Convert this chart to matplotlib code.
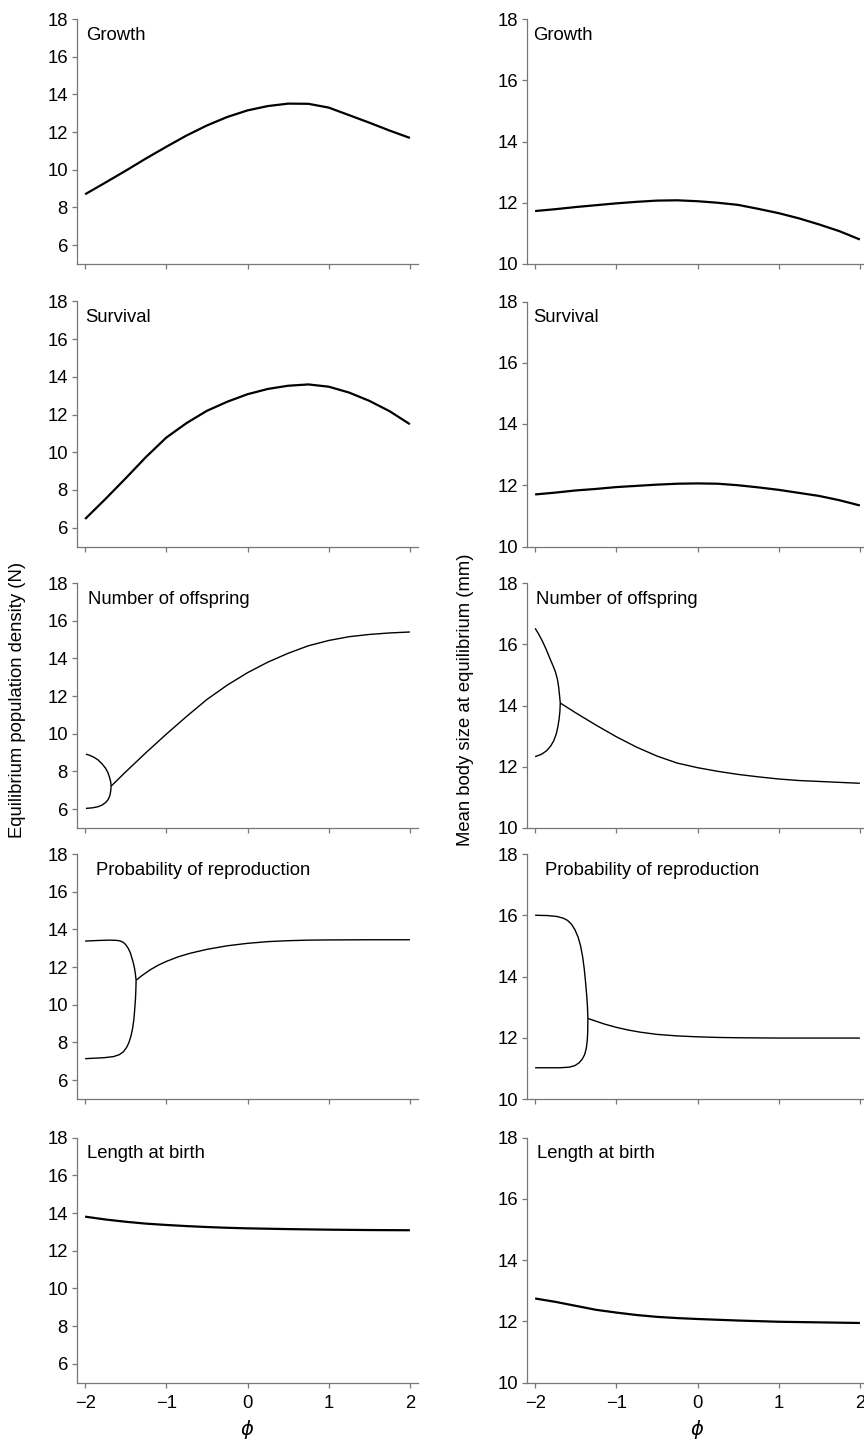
import matplotlib
matplotlib.use("Agg")
import matplotlib.pyplot as plt

plt.rcParams['font.family'] = ['Liberation Sans', 'DejaVu Sans']
plt.rcParams['font.size'] = 13.3

# Panel titles (same for both columns)
titles = ["Growth", "Survival", "Number of offspring", "Probability of reproduction", "Length at birth"]

# Left column: equilibrium population density (N)
growthN_x = [-2.0, -1.75, -1.5, -1.25, -1.0, -0.75, -0.5, -0.25, 0.0, 0.25, 0.5, 0.75, 1.0, 1.25, 1.5, 1.75, 2.0]
growthN_y = [8.70, 9.32, 9.95, 10.60, 11.22, 11.82, 12.35, 12.80, 13.15, 13.38, 13.51, 13.50, 13.30, 12.90, 12.50, 12.08, 11.69]

survN_x = [-2.0, -1.75, -1.5, -1.25, -1.0, -0.75, -0.5, -0.25, 0.0, 0.25, 0.5, 0.75, 1.0, 1.25, 1.5, 1.75, 2.0]
survN_y = [6.46, 7.52, 8.62, 9.75, 10.78, 11.55, 12.20, 12.68, 13.08, 13.36, 13.53, 13.60, 13.48, 13.17, 12.73, 12.18, 11.49]

offN_x = [-1.68, -1.5, -1.25, -1.0, -0.75, -0.5, -0.25, 0.0, 0.25, 0.5, 0.75, 1.0, 1.25, 1.5, 1.75, 2.0]
offN_y = [7.22, 7.98, 9.00, 9.98, 10.92, 11.82, 12.58, 13.24, 13.80, 14.27, 14.67, 14.95, 15.15, 15.27, 15.35, 15.40]
offN_up_x = [-1.99, -1.94, -1.89, -1.84, -1.79, -1.75, -1.72, -1.70, -1.685, -1.68]
offN_up_y = [8.92, 8.85, 8.75, 8.61, 8.40, 8.18, 7.95, 7.70, 7.45, 7.22]
offN_lo_x = [-1.68, -1.685, -1.695, -1.715, -1.745, -1.79, -1.84, -1.91, -1.99]
offN_lo_y = [7.22, 6.95, 6.72, 6.52, 6.36, 6.22, 6.13, 6.07, 6.04]

repN_x = [-1.372, -1.3, -1.2, -1.1, -1.0, -0.85, -0.7, -0.5, -0.25, 0.0, 0.25, 0.5, 0.75, 1.0, 1.5, 2.0]
repN_y = [11.30, 11.55, 11.85, 12.10, 12.30, 12.55, 12.74, 12.94, 13.13, 13.26, 13.35, 13.40, 13.43, 13.44, 13.45, 13.45]
repN_up_x = [-2.0, -1.85, -1.7, -1.62, -1.57, -1.53, -1.50, -1.47, -1.445, -1.425, -1.405, -1.39, -1.38, -1.372]
repN_up_y = [13.38, 13.41, 13.43, 13.42, 13.39, 13.31, 13.19, 13.00, 12.78, 12.50, 12.20, 11.90, 11.60, 11.30]
repN_lo_x = [-1.372, -1.375, -1.38, -1.39, -1.40, -1.415, -1.435, -1.46, -1.49, -1.53, -1.58, -1.65, -1.77, -2.0]
repN_lo_y = [11.30, 10.80, 10.30, 9.70, 9.20, 8.75, 8.35, 8.00, 7.73, 7.50, 7.35, 7.25, 7.19, 7.14]

birthN_x = [-2.0, -1.75, -1.5, -1.25, -1.0, -0.75, -0.5, -0.25, 0.0, 0.5, 1.0, 1.5, 2.0]
birthN_y = [13.81, 13.66, 13.54, 13.44, 13.37, 13.31, 13.26, 13.22, 13.19, 13.15, 13.12, 13.10, 13.09]

# Right column: mean body size at equilibrium (mm)
growthL_x = [-2.0, -1.75, -1.5, -1.25, -1.0, -0.75, -0.5, -0.25, 0.0, 0.25, 0.5, 0.75, 1.0, 1.25, 1.5, 1.75, 2.0]
growthL_y = [11.73, 11.79, 11.86, 11.92, 11.98, 12.03, 12.07, 12.08, 12.05, 12.00, 11.93, 11.80, 11.66, 11.49, 11.29, 11.07, 10.80]

survL_x = [-2.0, -1.75, -1.5, -1.25, -1.0, -0.75, -0.5, -0.25, 0.0, 0.25, 0.5, 0.75, 1.0, 1.25, 1.5, 1.75, 2.0]
survL_y = [11.70, 11.76, 11.83, 11.88, 11.94, 11.98, 12.02, 12.05, 12.06, 12.05, 12.00, 11.93, 11.85, 11.75, 11.65, 11.51, 11.34]

offL_x = [-1.69, -1.5, -1.25, -1.0, -0.75, -0.5, -0.25, 0.0, 0.25, 0.5, 0.75, 1.0, 1.25, 1.5, 1.75, 2.0]
offL_y = [14.08, 13.76, 13.36, 12.98, 12.64, 12.35, 12.12, 11.97, 11.85, 11.75, 11.67, 11.60, 11.55, 11.52, 11.49, 11.46]
offL_up_x = [-2.0, -1.96, -1.91, -1.86, -1.82, -1.78, -1.75, -1.725, -1.71, -1.70, -1.69]
offL_up_y = [16.52, 16.35, 16.10, 15.81, 15.55, 15.30, 15.10, 14.85, 14.60, 14.35, 14.08]
offL_lo_x = [-1.69, -1.695, -1.705, -1.72, -1.74, -1.77, -1.81, -1.86, -1.92, -2.0]
offL_lo_y = [14.08, 13.80, 13.55, 13.30, 13.07, 12.85, 12.67, 12.52, 12.41, 12.33]

repL_x = [-1.35, -1.25, -1.15, -1.0, -0.85, -0.7, -0.5, -0.25, 0.0, 0.25, 0.5, 1.0, 2.0]
repL_y = [12.63, 12.54, 12.45, 12.34, 12.25, 12.18, 12.11, 12.06, 12.03, 12.01, 12.00, 11.99, 11.99]
repL_up_x = [-2.0, -1.85, -1.73, -1.65, -1.6, -1.55, -1.51, -1.47, -1.44, -1.415, -1.395, -1.38, -1.365, -1.355, -1.35]
repL_up_y = [16.00, 15.99, 15.96, 15.90, 15.83, 15.70, 15.53, 15.28, 15.00, 14.65, 14.25, 13.85, 13.40, 13.00, 12.63]
repL_lo_x = [-1.35, -1.352, -1.358, -1.37, -1.39, -1.42, -1.46, -1.51, -1.58, -1.69, -2.0]
repL_lo_y = [12.63, 12.20, 11.90, 11.65, 11.45, 11.30, 11.18, 11.09, 11.04, 11.02, 11.02]

birthL_x = [-2.0, -1.75, -1.5, -1.25, -1.0, -0.75, -0.5, -0.25, 0.0, 0.5, 1.0, 1.5, 2.0]
birthL_y = [12.75, 12.64, 12.51, 12.38, 12.29, 12.21, 12.15, 12.11, 12.08, 12.03, 11.99, 11.97, 11.95]

leftCurves = [
    [(growthN_x, growthN_y)],
    [(survN_x, survN_y)],
    [(offN_x, offN_y), (offN_up_x, offN_up_y), (offN_lo_x, offN_lo_y)],
    [(repN_x, repN_y), (repN_up_x, repN_up_y), (repN_lo_x, repN_lo_y)],
    [(birthN_x, birthN_y)],
]
rightCurves = [
    [(growthL_x, growthL_y)],
    [(survL_x, survL_y)],
    [(offL_x, offL_y), (offL_up_x, offL_up_y), (offL_lo_x, offL_lo_y)],
    [(repL_x, repL_y), (repL_up_x, repL_up_y), (repL_lo_x, repL_lo_y)],
    [(birthL_x, birthL_y)],
]

W, H = 864, 1441
fig = plt.figure(figsize=(W / 100, H / 100), dpi=100)

# layout in pixels
rowTops = [19, 301.5, 583, 854, 1137.7]
panelH = 245
colLefts = [77, 527]
panelW = 341
lineWidths = [1.6, 1.6, 1.0, 1.0, 1.6]
titleOffsetL = [9, 8, 10.5, 19.5, 10]
titleOffsetR = [6, 6, 9, 18, 10]
gray = "#777777"

def setupAxis(ax, ylim, yticks, lastRow):
    ax.set_xlim(-2.1, 2.1)
    ax.set_ylim(*ylim)
    ax.set_xticks([-2, -1, 0, 1, 2])
    ax.set_yticks(yticks)
    for s in ["top", "right"]:
        ax.spines[s].set_visible(False)
    for s in ["left", "bottom"]:
        ax.spines[s].set_color(gray)
        ax.spines[s].set_linewidth(0.9)
    ax.tick_params(direction="out", length=3.5, width=0.9, color=gray, pad=3, labelsize=13.3)
    ax.tick_params(axis="x", pad=5)
    if not lastRow:
        ax.set_xticklabels([])
    else:
        ax.set_xlabel(r"$\phi$", fontsize=14, labelpad=5)

for row in range(5):
    for col in range(2):
        left = colLefts[col]
        top = rowTops[row]
        ax = fig.add_axes([left / W, 1 - (top + panelH) / H, panelW / W, panelH / H])
        ax.patch.set_alpha(0)
        if col == 0:
            setupAxis(ax, (5, 18), [6, 8, 10, 12, 14, 16, 18], row == 4)
            curves = leftCurves[row]
            off = titleOffsetL[row]
        else:
            setupAxis(ax, (10, 18), [10, 12, 14, 16, 18], row == 4)
            curves = rightCurves[row]
            off = titleOffsetR[row]
        for cx, cy in curves:
            ax.plot(cx, cy, color="black", lw=lineWidths[row], solid_capstyle="butt")
        ax.text(off / panelW, 1 - 16 / panelH, titles[row], transform=ax.transAxes,
                ha="left", va="center", fontsize=13.3)

fig.text(18 / W, 1 - 700 / H, "Equilibrium population density (N)", rotation=90,
         ha="center", va="center", fontsize=13.3)
fig.text(466 / W, 1 - 700 / H, "Mean body size at equilibrium (mm)", rotation=90,
         ha="center", va="center", fontsize=13.3)

fig.savefig("out.png", dpi=100)
